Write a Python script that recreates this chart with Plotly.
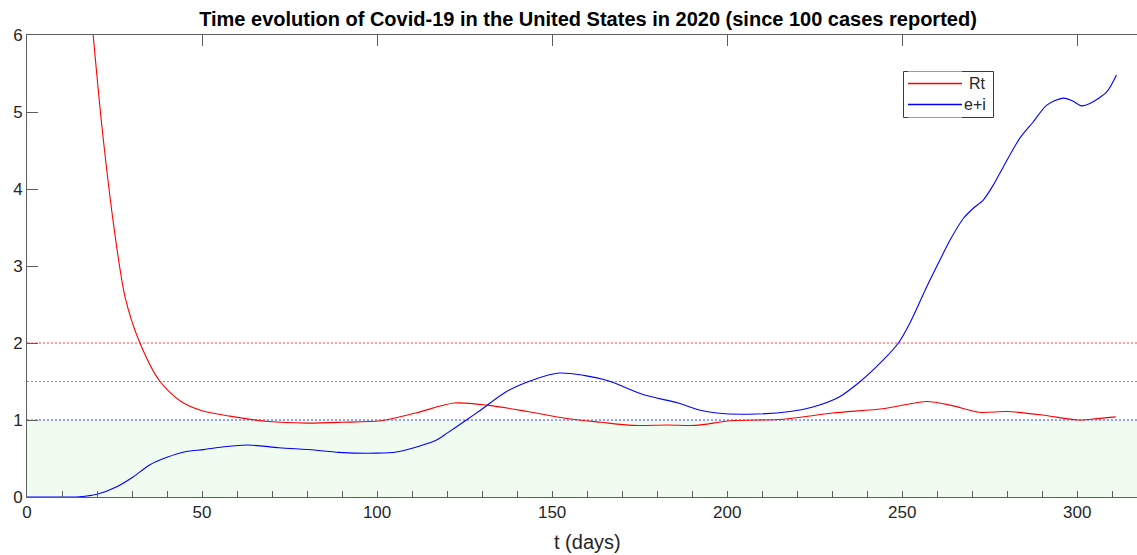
import plotly.graph_objects as go

# Reproduction number Rt (days since the 100th reported case)
rt_days = [10, 14, 17, 19, 21.5, 25, 28, 32, 38, 44, 50, 58, 69, 80, 90, 101, 111, 122,
           132, 143, 154, 164, 173, 183, 191, 201, 216, 230, 245, 257, 264, 272, 280,
           290, 300, 304, 311]
rt_values = [13.0, 9.2, 7.0, 5.95, 4.77, 3.45, 2.6, 2.03, 1.5, 1.24, 1.12, 1.05, 0.98,
             0.96, 0.97, 0.99, 1.09, 1.22, 1.19, 1.11, 1.02, 0.97, 0.93, 0.935, 0.93,
             0.99, 1.01, 1.09, 1.15, 1.24, 1.19, 1.10, 1.11, 1.065, 1.0, 1.01, 1.04]

# Exposed + infected (e+i)
ei_days = [0, 12, 15, 20, 25.5, 30.3, 35, 40, 45.5, 50.4, 54, 63, 72, 82, 89, 100, 105.5,
           112, 117, 120, 125.5, 129.3, 137, 144.5, 152, 159, 166, 176, 186, 192, 197,
           206, 218, 224.5, 232, 238, 244.6, 248.9, 252.2, 257, 260.8, 263.7, 267.5,
           270.3, 273.2, 276, 278.9, 283.6, 287.4, 291.3, 296, 298.4, 301.2, 303.6,
           308.4, 311.2]
ei_values = [0, 0, 0.003, 0.035, 0.13, 0.26, 0.415, 0.515, 0.59, 0.615, 0.64, 0.675,
             0.64, 0.61, 0.58, 0.57, 0.585, 0.66, 0.74, 0.83, 1.0, 1.12, 1.37, 1.52,
             1.61, 1.58, 1.51, 1.33, 1.22, 1.13, 1.09, 1.075, 1.11, 1.17, 1.30, 1.50,
             1.78, 2.0, 2.26, 2.73, 3.08, 3.34, 3.62, 3.75, 3.86, 4.05, 4.29, 4.66,
             4.87, 5.09, 5.18, 5.15, 5.08, 5.11, 5.26, 5.48]

# Reference levels drawn as dotted lines
ref_levels = [2.0, 1.5, 1.0]
ref_colors = ["#ff4040", "#8a8a8a", "#4040ff"]

x_tick_vals = list(range(0, 320, 10))
x_tick_text = [str(v) if v % 50 == 0 else "" for v in x_tick_vals]
x_major = list(range(0, 320, 50))
y_tick_vals = [0, 1, 2, 3, 4, 5, 6]

X_MAX = 317.06
AX = "#5e5e5e"
TXT = "#262626"
FONT = "Liberation Sans, Arial, sans-serif"
W, H = 1137, 555
L, T, B = 27, 35, 58
PW, PH = W - L, H - T - B


def fx(p):
    """pixel column -> fraction of the plot area width"""
    return (p - L) / PW


def fy(p):
    """pixel row -> fraction of the plot area height"""
    return (H - B - p) / PH


fig = go.Figure()

# shaded region Rt < 1
fig.add_shape(type="rect", xref="x", yref="y", x0=0, x1=X_MAX, y0=0, y1=1,
              fillcolor="#f1fcf1", line=dict(width=0), layer="below")

for lvl, col in zip(ref_levels, ref_colors):
    fig.add_trace(go.Scatter(x=[0, X_MAX], y=[lvl, lvl], mode="lines", hoverinfo="skip",
                             line=dict(color=col, width=1, dash="2px,2px")))

fig.add_trace(go.Scatter(x=rt_days, y=rt_values, mode="lines", name="Rt",
                         line=dict(color="#ff0000", width=1.1, shape="spline", smoothing=0.8)))
fig.add_trace(go.Scatter(x=ei_days, y=ei_values, mode="lines", name="e+i",
                         line=dict(color="#0000ff", width=1.1, shape="spline", smoothing=0.8)))
# carrier for the top axis
fig.add_trace(go.Scatter(x=[0], y=[0], xaxis="x2", mode="markers",
                         marker=dict(opacity=0), hoverinfo="skip"))

# legend: box, line samples and labels
fig.add_shape(type="rect", xref="paper", yref="paper",
              x0=fx(903.5), x1=fx(993.5), y0=fy(117.5), y1=fy(71.5),
              fillcolor="white", line=dict(color="#3a3a3a", width=1), layer="below")
for name, col, row in [("Rt", "#ff0000", 83.5), ("e+i", "#0000ff", 104.5)]:
    fig.add_trace(go.Scatter(x=[0, 1], y=[row, row], xaxis="x3", yaxis="y3", mode="lines",
                             hoverinfo="skip", line=dict(color=col, width=1.3)))
    fig.add_annotation(xref="paper", yref="paper", x=fx(988), y=fy(row),
                       text=name, showarrow=False, xanchor="right", yanchor="middle",
                       font=dict(family=FONT, size=16, color=TXT))

# axis label
fig.add_annotation(xref="paper", yref="paper", x=fx(588), y=fy(541.5), text="t (days)",
                   showarrow=False, xanchor="center", yanchor="middle",
                   font=dict(family=FONT, size=20, color=TXT))

fig.update_layout(
    width=W, height=H,
    margin=dict(l=L, r=0, t=T, b=B),
    paper_bgcolor="white", plot_bgcolor="white",
    showlegend=False,
    title=dict(text="Time evolution of Covid-19 in the United States in 2020 (since 100 cases reported)",
               x=588 / W, xanchor="center", xref="container",
               y=1 - 19 / H, yanchor="middle", yref="container",
               font=dict(family=FONT, size=20, color="black", weight="bold")),
    xaxis=dict(range=[0, X_MAX], tickmode="array", tickvals=x_tick_vals, ticktext=x_tick_text,
               ticks="inside", ticklen=6, tickcolor=AX, tickwidth=1,
               showline=True, linecolor=AX, linewidth=1, showgrid=False, zeroline=False,
               tickfont=dict(family=FONT, size=17, color=TXT)),
    xaxis2=dict(range=[0, X_MAX], overlaying="x", side="top", anchor="y",
                tickmode="array", tickvals=x_major, ticks="inside", ticklen=11,
                tickcolor=AX, showticklabels=False, showline=True, linecolor=AX,
                linewidth=1, showgrid=False, zeroline=False),
    yaxis=dict(range=[0, 6], tickmode="array", tickvals=y_tick_vals,
               ticks="inside", ticklen=11, tickcolor=AX, tickwidth=1,
               showline=True, linecolor=AX, linewidth=1, showgrid=False, zeroline=False,
               tickfont=dict(family=FONT, size=17, color=TXT)),
    xaxis3=dict(domain=[fx(908), fx(962)], range=[0, 1], anchor="y3", visible=False,
                fixedrange=True),
    yaxis3=dict(domain=[fy(117.5), fy(71.5)], range=[117.5, 71.5], anchor="x3",
                visible=False, fixedrange=True),
)

fig.write_html("out.html")
